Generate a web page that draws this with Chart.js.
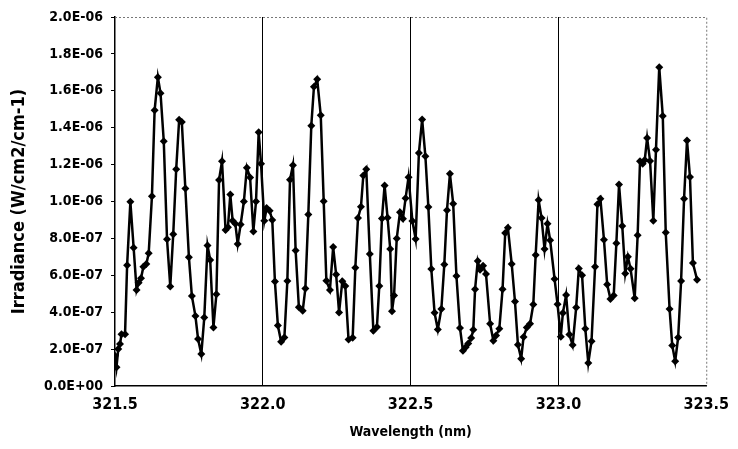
<!DOCTYPE html>
<html>
<head>
<meta charset="utf-8">
<script src="https://cdn.jsdelivr.net/npm/chart.js@4.4.1/dist/chart.umd.min.js"></script>
<style>
  body { margin: 0; background: #fff; }
  #wrap { width: 738px; height: 449px; position: relative; }
</style>
</head>
<body>
<div id="wrap"><canvas id="myChart"></canvas></div>
<script>
// wavelength (nm)
const wavelengths = [
  321.500, 321.505, 321.511, 321.517, 321.522, 321.534, 321.541, 321.552, 321.563, 321.573,
  321.580, 321.588, 321.596, 321.606, 321.614, 321.625, 321.634, 321.645, 321.654, 321.665,
  321.676, 321.687, 321.697, 321.707, 321.717, 321.726, 321.738, 321.750, 321.760, 321.772,
  321.781, 321.792, 321.802, 321.813, 321.822, 321.833, 321.843, 321.852, 321.862, 321.874,
  321.882, 321.890, 321.898, 321.907, 321.915, 321.925, 321.936, 321.946, 321.957, 321.968,
  321.977, 321.986, 321.994, 322.005, 322.013, 322.023, 322.032, 322.041, 322.051, 322.062,
  322.073, 322.083, 322.092, 322.102, 322.111, 322.122, 322.135, 322.144, 322.154, 322.164,
  322.173, 322.184, 322.196, 322.206, 322.215, 322.227, 322.238, 322.248, 322.258, 322.269,
  322.279, 322.290, 322.304, 322.313, 322.322, 322.332, 322.340, 322.350, 322.362, 322.374,
  322.386, 322.394, 322.403, 322.412, 322.422, 322.431, 322.437, 322.444, 322.453, 322.464,
  322.474, 322.483, 322.493, 322.506, 322.517, 322.528, 322.539, 322.550, 322.560, 322.570,
  322.581, 322.592, 322.604, 322.614, 322.623, 322.633, 322.644, 322.655, 322.667, 322.677,
  322.686, 322.695, 322.705, 322.712, 322.718, 322.727, 322.735, 322.745, 322.755, 322.769,
  322.780, 322.789, 322.800, 322.811, 322.820, 322.829, 322.842, 322.853, 322.863, 322.874,
  322.882, 322.893, 322.904, 322.915, 322.923, 322.933, 322.943, 322.953, 322.963, 322.972,
  322.987, 322.997, 323.008, 323.015, 323.026, 323.037, 323.048, 323.060, 323.069, 323.080,
  323.091, 323.101, 323.112, 323.124, 323.132, 323.142, 323.154, 323.165, 323.176, 323.187,
  323.196, 323.205, 323.216, 323.226, 323.235, 323.244, 323.258, 323.268, 323.276, 323.285,
  323.292, 323.300, 323.310, 323.321, 323.330, 323.341, 323.353, 323.363, 323.376, 323.385,
  323.395, 323.405, 323.415, 323.425, 323.435, 323.445, 323.455, 323.469
];

// irradiance in units of 1E-07 W/cm2/cm-1
const irradianceE7 = [
  1.64, 1.02, 2.0, 2.27, 2.81, 2.81, 6.55, 9.98, 7.50, 5.21,
  5.60, 5.84, 6.47, 6.61, 7.19, 10.29, 14.94, 16.74, 15.87, 13.26,
  7.95, 5.39, 8.23, 11.75, 14.43, 14.31, 10.7, 6.98, 4.88, 3.8,
  2.55, 1.73, 3.71, 7.62, 6.83, 3.17, 4.97, 11.17, 12.18, 8.45,
  8.6, 10.38, 8.95, 8.8, 7.7, 8.75, 10.0, 11.83, 11.3, 8.38,
  10.0, 13.75, 12.05, 8.95, 9.65, 9.5, 9.0, 5.66, 3.28, 2.4,
  2.63, 5.69, 11.18, 11.97, 7.35, 4.27, 4.08, 5.29, 9.3, 14.1,
  16.22, 16.62, 14.67, 10.02, 5.7, 5.21, 7.53, 6.05, 3.99, 5.68,
  5.42, 2.52, 2.62, 6.41, 9.1, 9.71, 11.41, 11.75, 7.15, 2.99,
  3.2, 5.42, 9.08, 10.87, 9.12, 7.42, 4.05, 4.9, 7.99, 9.42,
  9.07, 10.18, 11.32, 8.94, 7.97, 12.63, 14.45, 12.45, 9.7, 6.34,
  3.97, 3.06, 4.18, 6.59, 9.52, 11.5, 9.88, 5.96, 3.15, 1.91,
  2.1, 2.3, 2.6, 3.05, 5.24, 6.77, 6.3, 6.52, 6.07, 3.37,
  2.45, 2.74, 3.1, 5.24, 8.29, 8.58, 6.61, 4.58, 2.24, 1.48,
  2.65, 3.17, 3.37, 4.42, 7.1, 10.08, 9.1, 7.42, 8.79, 7.9,
  5.8, 4.43, 2.67, 3.95, 4.93, 2.79, 2.22, 4.25, 6.37, 6.0,
  3.1, 1.24, 2.43, 6.46, 9.85, 10.15, 7.93, 5.5, 4.72, 4.9,
  7.74, 10.92, 8.67, 6.1, 7.0, 6.35, 4.75, 8.17, 12.18, 12.05,
  12.25, 13.44, 12.2, 8.96, 12.81, 17.28, 14.63, 8.32, 4.18, 2.2,
  1.34, 2.63, 5.69, 10.15, 13.3, 11.33, 6.66, 5.76
];

const xMin = 321.5, xMax = 323.5, xStep = 0.5;
const yMin = 0, yMax = 2.0E-06, yStep = 2.0E-07;

const FONT = "'Liberation Sans Narrow', 'DejaVu Sans Condensed', 'Liberation Sans', Arial, sans-serif";

// Excel style "2.0E-06"
function sciLabel(v) {
  if (Math.abs(v) < 1e-15) return '0.0E+00';
  let e = Math.floor(Math.log10(v) + 1e-9);
  let m = v / Math.pow(10, e);
  let s = m.toFixed(1);
  if (s === '10.0') { e += 1; s = '1.0'; }
  const sign = e < 0 ? '-' : '+';
  const ae = Math.abs(e);
  return s + 'E' + sign + (ae < 10 ? '0' + ae : ae);
}

// top and right frame is faint/dotted on the original
const frameLines = {
  id: 'frameLines',
  afterDraw(chart) {
    const { ctx, chartArea: a } = chart;
    ctx.save();
    ctx.strokeStyle = '#777';
    ctx.lineWidth = 1;
    ctx.setLineDash([2, 2]);
    ctx.beginPath();
    ctx.moveTo(a.left, a.top + 0.5);
    ctx.lineTo(a.right + 0.5, a.top + 0.5);
    ctx.lineTo(a.right + 0.5, a.bottom);
    ctx.stroke();
    ctx.restore();
  }
};

const points = wavelengths.map((w, i) => ({ x: w, y: irradianceE7[i] * 1e-7 }));

new Chart(document.getElementById('myChart').getContext('2d'), {
  type: 'line',
  data: {
    datasets: [{
      data: points,
      borderColor: '#000',
      borderWidth: 2.5,
      pointStyle: 'rectRot',
      pointRadius: 4,
      pointBackgroundColor: '#000',
      pointBorderColor: '#000',
      pointBorderWidth: 0,
      tension: 0
    }]
  },
  options: {
    responsive: true,
    maintainAspectRatio: false,
    animation: false,
    devicePixelRatio: 1,
    layout: { padding: { top: 17, right: 27, left: 0, bottom: 0 } },
    plugins: { legend: { display: false }, tooltip: { enabled: false } },
    scales: {
      x: {
        type: 'linear',
        min: xMin, max: xMax,
        afterFit: s => { s.height = 63; },
        afterBuildTicks: s => {
          const t = [];
          for (let v = xMin; v <= xMax + 1e-9; v += xStep) t.push({ value: +v.toFixed(1) });
          s.ticks = t;
        },
        ticks: {
          color: '#000',
          padding: 9,
          maxRotation: 0,
          font: { family: FONT, size: 16, weight: 'bold' },
          callback: v => v.toFixed(1)
        },
        grid: {
          drawTicks: false,
          color: c => (c.tick && c.tick.value > xMin + 1e-6 && c.tick.value < xMax - 1e-6) ? '#000' : 'rgba(0,0,0,0)',
          lineWidth: 1
        },
        border: { display: true, color: '#000', width: 1.5 },
        title: {
          display: true,
          text: 'Wavelength (nm)',
          color: '#000',
          padding: { top: 0, bottom: 8 },
          font: { family: FONT, size: 14, weight: 'bold' }
        }
      },
      y: {
        min: yMin, max: yMax,
        afterFit: s => { s.width = 115; },
        afterBuildTicks: s => {
          const t = [];
          for (let k = 0; k <= Math.round((yMax - yMin) / yStep); k++) t.push({ value: yMin + k * yStep });
          s.ticks = t;
        },
        ticks: {
          color: '#000',
          padding: 8,
          font: { family: FONT, size: 14, weight: 'bold' },
          callback: v => sciLabel(v)
        },
        grid: { drawOnChartArea: false, drawTicks: true, tickLength: 4, color: '#000' },
        border: { display: true, color: '#000', width: 1.5 },
        title: {
          display: true,
          text: 'Irradiance (W/cm2/cm-1)',
          color: '#000',
          padding: { top: 9, bottom: 0 },
          font: { family: FONT, size: 18, weight: 'bold' }
        }
      }
    }
  },
  plugins: [frameLines]
});
</script>
</body>
</html>
